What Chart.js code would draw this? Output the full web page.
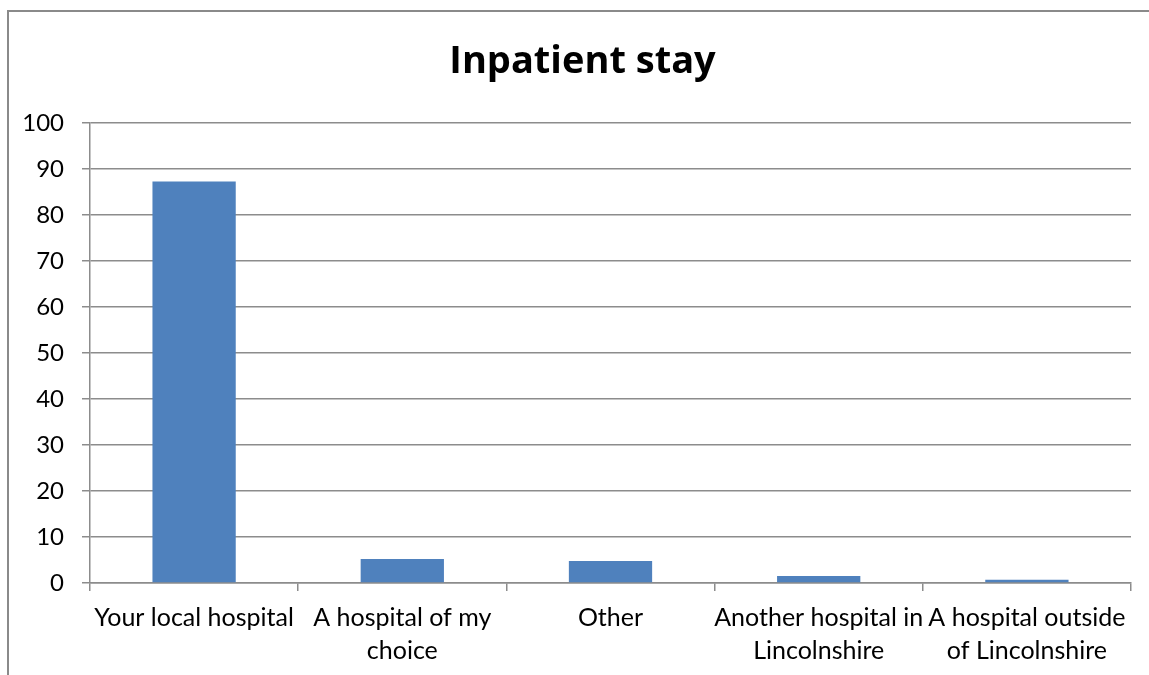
<!DOCTYPE html>
<html>
<head>
<meta charset="utf-8">
<title>Inpatient stay</title>
<script src="https://cdn.jsdelivr.net/npm/chart.js@4/dist/chart.umd.min.js"></script>
<style>
  html, body { margin: 0; padding: 0; background: #fff; }
  #wrap { position: relative; width: 1149px; height: 675px; }
</style>
</head>
<body>
<div id="wrap"><canvas id="stayChart"></canvas></div>
<script>
// ── Data ──
const categories = [
  "Your local hospital",
  ["A hospital of my", "choice"],
  "Other",
  ["Another hospital in", "Lincolnshire"],
  ["A hospital outside", "of Lincolnshire"]
];
const stayValues = [87.3, 5.2, 4.8, 1.5, 0.7];
const chartTitle = "Inpatient stay";

const FONT = "Lato, 'Open Sans', sans-serif";
const TITLE_FONT = "'Open Sans', Lato, sans-serif";
const GRID = "#8c8c8c";

// ── Frame + title (drawn like the Excel chart box) ──
const framePlugin = {
  id: "frame",
  afterDraw(chart) {
    const ctx = chart.ctx;
    ctx.save();
    ctx.strokeStyle = "#8a8a8a";
    ctx.lineWidth = 2;
    ctx.beginPath();
    ctx.moveTo(8, 675);
    ctx.lineTo(8, 11);
    ctx.lineTo(1149, 11);
    ctx.stroke();

    ctx.fillStyle = "#000";
    ctx.font = "bold 38px " + TITLE_FONT;
    ctx.textAlign = "center";
    ctx.textBaseline = "alphabetic";
    ctx.fillText(chartTitle, 582.5, 72.5);
    ctx.restore();
  }
};

const ctx = document.getElementById("stayChart").getContext("2d");

new Chart(ctx, {
  type: "bar",
  data: {
    labels: categories,
    datasets: [{
      data: stayValues,
      backgroundColor: "#4f81bd",
      borderWidth: 0,
      categoryPercentage: 1.0,
      barPercentage: 0.4
    }]
  },
  options: {
    responsive: true,
    maintainAspectRatio: false,
    animation: false,
    layout: { padding: { top: 123, right: 18, left: 0, bottom: 0 } },
    plugins: {
      legend: { display: false },
      title: { display: false },
      tooltip: { enabled: false }
    },
    scales: {
      x: {
        afterFit(scale) { scale.height = 92; },
        grid: {
          display: true,
          drawOnChartArea: false,
          drawTicks: true,
          tickLength: 8,
          color: GRID,
          lineWidth: 1.5
        },
        border: { color: GRID, width: 1.5 },
        ticks: {
          color: "#000",
          padding: 10,
          maxRotation: 0,
          autoSkip: false,
          font: { family: FONT, size: 25, lineHeight: 1.32 }
        }
      },
      y: {
        min: 0,
        max: 100,
        afterFit(scale) { scale.width = 90; },
        grid: {
          color: GRID,
          lineWidth: 1.5,
          tickLength: 8
        },
        border: { color: GRID, width: 1.5 },
        ticks: {
          stepSize: 10,
          color: "#000",
          padding: 18,
          font: { family: FONT, size: 24 }
        }
      }
    }
  },
  plugins: [framePlugin]
});
</script>
</body>
</html>
